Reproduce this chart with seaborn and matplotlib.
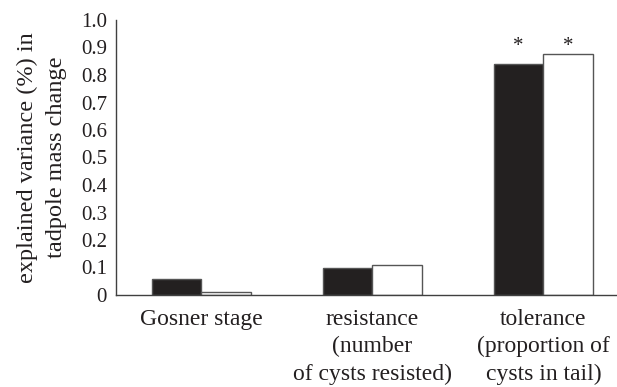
import matplotlib
matplotlib.use("Agg")
import matplotlib.pyplot as plt
import seaborn as sns
import pandas as pd
import numpy as np

categories = ["Gosner stage", "resistance\n(number\nof cysts resisted)", "tolerance\n(proportion of\ncysts in tail)"]
series_names = ["series 1", "series 2"]
values_1 = [0.06, 0.10, 0.84]
values_2 = [0.012, 0.11, 0.875]
significant_1 = [False, False, True]
significant_2 = [False, False, True]
yticks = [0, 0.1, 0.2, 0.3, 0.4, 0.5, 0.6, 0.7, 0.8, 0.9, 1.0]
ytick_labels = ["0", "0.1", "0.2", "0.3", "0.4", "0.5", "0.6", "0.7", "0.8", "0.9", "1.0"]

df = pd.DataFrame({
    "category": categories * 2,
    "series": [series_names[0]] * 3 + [series_names[1]] * 3,
    "value": values_1 + values_2,
})

sns.set_style("white")
plt.rcParams["font.family"] = ["Liberation Serif", "DejaVu Serif"]

fig = plt.figure(figsize=(6.17, 3.87), dpi=100)
ax = fig.add_axes([116 / 617, 1 - 295 / 387, 1 - 116 / 617, (295 - 20) / 387])

sns.barplot(data=df, x="category", y="value", hue="series", order=categories,
            hue_order=series_names, palette=["#231f20", "#ffffff"], width=0.58,
            gap=0, edgecolor="#555555", linewidth=1.0, legend=False, ax=ax)

# stars above significant bars
off = 0.58 / 4
for i, (s1, s2) in enumerate(zip(significant_1, significant_2)):
    if s1:
        ax.text(i - off, 0.905, "*", ha="center", va="center", fontsize=15, color="#231f20")
    if s2:
        ax.text(i + off, 0.905, "*", ha="center", va="center", fontsize=15, color="#231f20")

ax.set_xlim(-0.5, 2.43)
ax.set_ylim(0, 1.0)
ax.set_yticks(yticks)
ax.set_yticklabels(ytick_labels, fontsize=15, color="#231f20")

ax.set_xticks([0.5, 1.5])
ax.set_xticklabels([])
ax.set_xticks([0, 1, 2], minor=True)
ax.set_xticklabels(categories, minor=True, fontsize=17, color="#231f20", linespacing=1.38)
ax.tick_params(axis="x", which="minor", length=0, pad=10)
ax.tick_params(axis="x", which="major", length=5, width=1, color="#404040", direction="out")
ax.tick_params(axis="y", length=6, width=1, color="#404040", direction="out", pad=0.5)
ax.set_xlabel("")
ax.set_ylabel("explained variance (%) in\ntadpole mass change", fontsize=17.5,
              color="#231f20", linespacing=1.5, labelpad=10)

for side in ["top", "right"]:
    ax.spines[side].set_visible(False)
for side in ["left", "bottom"]:
    ax.spines[side].set_color("#404040")
    ax.spines[side].set_linewidth(1.0)

fig.savefig("out.png", dpi=100)
